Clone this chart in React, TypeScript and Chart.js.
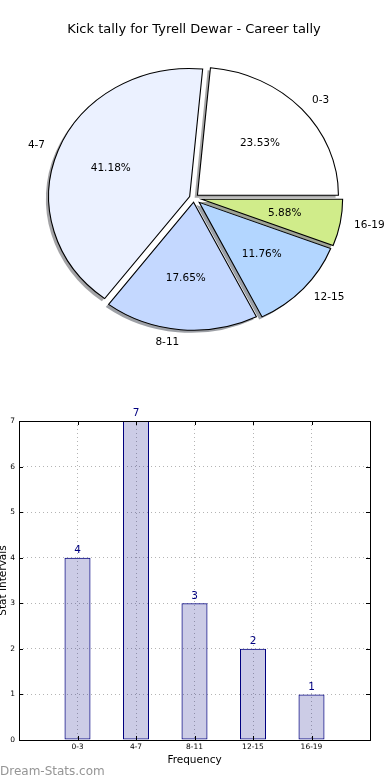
import React, { useEffect, useRef } from 'react';
import { Chart, registerables } from 'chart.js';

Chart.register(...registerables);
Chart.defaults.font.family = "'DejaVu Sans', sans-serif";

// ---------- data ----------
const chartTitle = 'Kick tally for Tyrell Dewar - Career tally';
const categories = ['0-3', '4-7', '8-11', '12-15', '16-19'];
const counts = [4, 7, 3, 2, 1];
const sliceColors = ['#ffffff', '#ebf1ff', '#c4d8ff', '#b3d6ff', '#d0ec8a'];
const yTickMax = 7;
const xAxisTitle = 'Frequency';
const yAxisTitle = 'Stat Intervals';
const watermark = 'Dream-Stats.com';

// ---------- style ----------
const explodeFrac = [0.033, 0.033, 0.033, 0.05, 0.055];
const SX = 141 / 128; // ellipse stretch (pie axes not equal)
const SHADOW_DX = -2.8;
const SHADOW_DY = 2.6;

// ---------- derived ----------
const total = counts.reduce((a, b) => a + b, 0);
const percentLabels = counts.map((c) => ((c / total) * 100).toFixed(2) + '%');
// matplotlib draws counter-clockwise from east; Chart.js draws clockwise -> reverse order
const order = categories.map((_, i) => categories.length - 1 - i);
const pieLabels = order.map((i) => categories[i]);
const pieValues = order.map((i) => counts[i]);
const pieColors = order.map((i) => sliceColors[i]);
const piePct = order.map((i) => percentLabels[i]);
const pieExplode = order.map((i) => explodeFrac[i]);

function shadowOf(hex: string) {
  const h = hex.replace('#', '');
  const r = parseInt(h.slice(0, 2), 16);
  const g = parseInt(h.slice(2, 4), 16);
  const b = parseInt(h.slice(4, 6), 16);
  return `rgba(${Math.round(r * 0.3)},${Math.round(g * 0.3)},${Math.round(b * 0.3)},0.5)`;
}

function fakeArc(arc: any, dx: number, dy: number, opts?: any) {
  const f = Object.create(arc);
  f.x = arc.x + dx;
  f.y = arc.y + dy;
  if (opts) f.options = { ...arc.options, ...opts };
  return f;
}

const piePlugin = {
  id: 'pieDecor',
  beforeDatasetsDraw(chart: any) {
    const ctx = chart.ctx;
    const arcs = chart.getDatasetMeta(0).data;
    if (!arcs.length) return;
    const cx = arcs[0].x;
    const cy = arcs[0].y;
    const ell = () => {
      ctx.translate(cx, cy);
      ctx.scale(SX, 1);
      ctx.translate(-cx, -cy);
    };
    // shadows
    ctx.save();
    ctx.translate(SHADOW_DX, SHADOW_DY);
    ell();
    arcs.forEach((arc: any, j: number) => {
      const mid = (arc.startAngle + arc.endAngle) / 2;
      const e = pieExplode[j] * arc.outerRadius;
      const f = fakeArc(arc, Math.cos(mid) * e, Math.sin(mid) * e, {
        backgroundColor: shadowOf(pieColors[j]),
        borderWidth: 0,
      });
      f.draw(ctx);
    });
    ctx.restore();
    // wedges
    ctx.save();
    ell();
    arcs.forEach((arc: any, j: number) => {
      const mid = (arc.startAngle + arc.endAngle) / 2;
      const e = pieExplode[j] * arc.outerRadius;
      fakeArc(arc, Math.cos(mid) * e, Math.sin(mid) * e).draw(ctx);
    });
    ctx.restore();
    return false;
  },
  afterDraw(chart: any) {
    const ctx = chart.ctx;
    const arcs = chart.getDatasetMeta(0).data;
    if (!arcs.length) return;
    ctx.save();
    ctx.fillStyle = '#000';
    ctx.textBaseline = 'middle';
    ctx.font = "13px 'DejaVu Sans'";
    ctx.textAlign = 'center';
    ctx.fillText(chartTitle, arcs[0].x, 30);
    ctx.font = "10.5px 'DejaVu Sans'";
    arcs.forEach((arc: any, j: number) => {
      const mid = (arc.startAngle + arc.endAngle) / 2;
      const c = Math.cos(mid);
      const s = Math.sin(mid);
      const r = arc.outerRadius;
      const e = pieExplode[j] * r;
      const lx = arc.x + c * (r * 1.1 + e) * SX;
      const ly = arc.y + s * (r * 1.1 + e);
      ctx.textAlign = c > 0 ? 'left' : 'right';
      ctx.fillText(pieLabels[j], lx, ly);
      const px = arc.x + c * (r * 0.6 + e) * SX;
      const py = arc.y + s * (r * 0.6 + e);
      ctx.textAlign = 'center';
      ctx.fillText(piePct[j], px, py);
    });
    ctx.restore();
  },
};

const barPlugin = {
  id: 'barDecor',
  afterDraw(chart: any) {
    const ctx = chart.ctx;
    const { left, right, top, bottom } = chart.chartArea;
    const xs = chart.scales.x;
    const ys = chart.scales.y;
    ctx.save();
    // ticks inside the frame
    ctx.strokeStyle = '#000';
    ctx.lineWidth = 1;
    ctx.beginPath();
    for (let v = 0; v <= yTickMax; v++) {
      const y = Math.round(ys.getPixelForValue(v)) + 0.5;
      ctx.moveTo(left, y);
      ctx.lineTo(left + 4, y);
      ctx.moveTo(right, y);
      ctx.lineTo(right - 4, y);
    }
    for (let i = 0; i < categories.length; i++) {
      const x = Math.round(xs.getPixelForValue(i + 1)) + 0.5;
      ctx.moveTo(x, bottom);
      ctx.lineTo(x, bottom - 4);
      ctx.moveTo(x, top);
      ctx.lineTo(x, top + 4);
    }
    ctx.stroke();
    // frame
    ctx.strokeRect(left + 0.5, top + 0.5, right - left, bottom - top);
    // value labels
    ctx.fillStyle = '#000080';
    ctx.font = "10.5px 'DejaVu Sans'";
    ctx.textAlign = 'center';
    ctx.textBaseline = 'bottom';
    chart.getDatasetMeta(0).data.forEach((bar: any, i: number) => {
      ctx.fillText(String(counts[i]), bar.x, bar.y - 2);
    });
    // watermark
    ctx.fillStyle = '#959595';
    ctx.font = "12px 'DejaVu Sans'";
    ctx.textAlign = 'left';
    ctx.textBaseline = 'alphabetic';
    ctx.fillText(watermark, 0, 385);
    ctx.restore();
  },
};

export default function App() {
  const pieRef = useRef<HTMLCanvasElement>(null);
  const barRef = useRef<HTMLCanvasElement>(null);

  useEffect(() => {
    const pie = new Chart(pieRef.current as HTMLCanvasElement, {
      type: 'pie',
      data: {
        labels: pieLabels,
        datasets: [
          {
            data: pieValues,
            backgroundColor: pieColors,
            borderColor: '#000',
            borderWidth: 1,
            borderJoinStyle: 'miter',
            offset: 0,
          } as any,
        ],
      },
      options: {
        animation: false,
        responsive: false,
        events: [],
        rotation: 90,
        radius: 128,
        layout: { padding: { left: 0, right: 2, top: 0, bottom: 2 } },
        plugins: { legend: { display: false }, tooltip: { enabled: false }, title: { display: false } },
      } as any,
      plugins: [piePlugin],
    });

    const tickFont = { family: "'DejaVu Sans'", size: 7.5 };
    const titleFont = { family: "'DejaVu Sans'", size: 10.5 };
    const bar = new Chart(barRef.current as HTMLCanvasElement, {
      type: 'bar',
      data: {
        datasets: [
          {
            data: counts.map((c, i) => ({ x: i + 1, y: c })),
            backgroundColor: 'rgba(0,0,128,0.2)',
            borderColor: '#000080',
            borderWidth: 1,
            borderSkipped: false,
            barPercentage: 0.445,
            categoryPercentage: 1,
          } as any,
        ],
      },
      options: {
        animation: false,
        responsive: false,
        events: [],
        layout: { padding: { top: 31, right: 20, left: 0, bottom: 0 } },
        plugins: { legend: { display: false }, tooltip: { enabled: false } },
        scales: {
          x: {
            type: 'linear',
            min: 0,
            max: categories.length + 1,
            offset: false,
            afterFit: (s: any) => {
              s.height = 40;
            },
            grid: { color: '#b4b4b4', drawTicks: false, lineWidth: 1, offset: false },
            border: { display: false, dash: [1, 3] },
            ticks: {
              stepSize: 1,
              padding: 3,
              autoSkip: false,
              maxRotation: 0,
              color: '#000',
              font: tickFont,
              callback: (v: any) => categories[Number(v) - 1] ?? '',
            },
            title: { display: true, text: xAxisTitle, color: '#000', font: titleFont, padding: { top: 0, bottom: 13 } },
          },
          y: {
            min: 0,
            max: yTickMax,
            afterFit: (s: any) => {
              s.width = 19;
            },
            grid: { color: '#b4b4b4', drawTicks: false, lineWidth: 1 },
            border: { display: false, dash: [1, 3] },
            ticks: { stepSize: 1, padding: 4, color: '#000', font: tickFont },
            title: { display: true, text: yAxisTitle, color: '#000', font: titleFont, padding: { top: -3, bottom: 0 } },
          },
        },
      } as any,
      plugins: [barPlugin],
    });

    return () => {
      pie.destroy();
      bar.destroy();
    };
  }, []);

  return (
    <div style={{ position: 'absolute', left: 0, top: 0, width: 390, height: 780, background: '#fff', overflow: 'hidden' }}>
      <canvas ref={pieRef} width={390} height={398} style={{ position: 'absolute', left: 0, top: 0 }} />
      <canvas ref={barRef} width={390} height={390} style={{ position: 'absolute', left: 0, top: 390 }} />
    </div>
  );
}
